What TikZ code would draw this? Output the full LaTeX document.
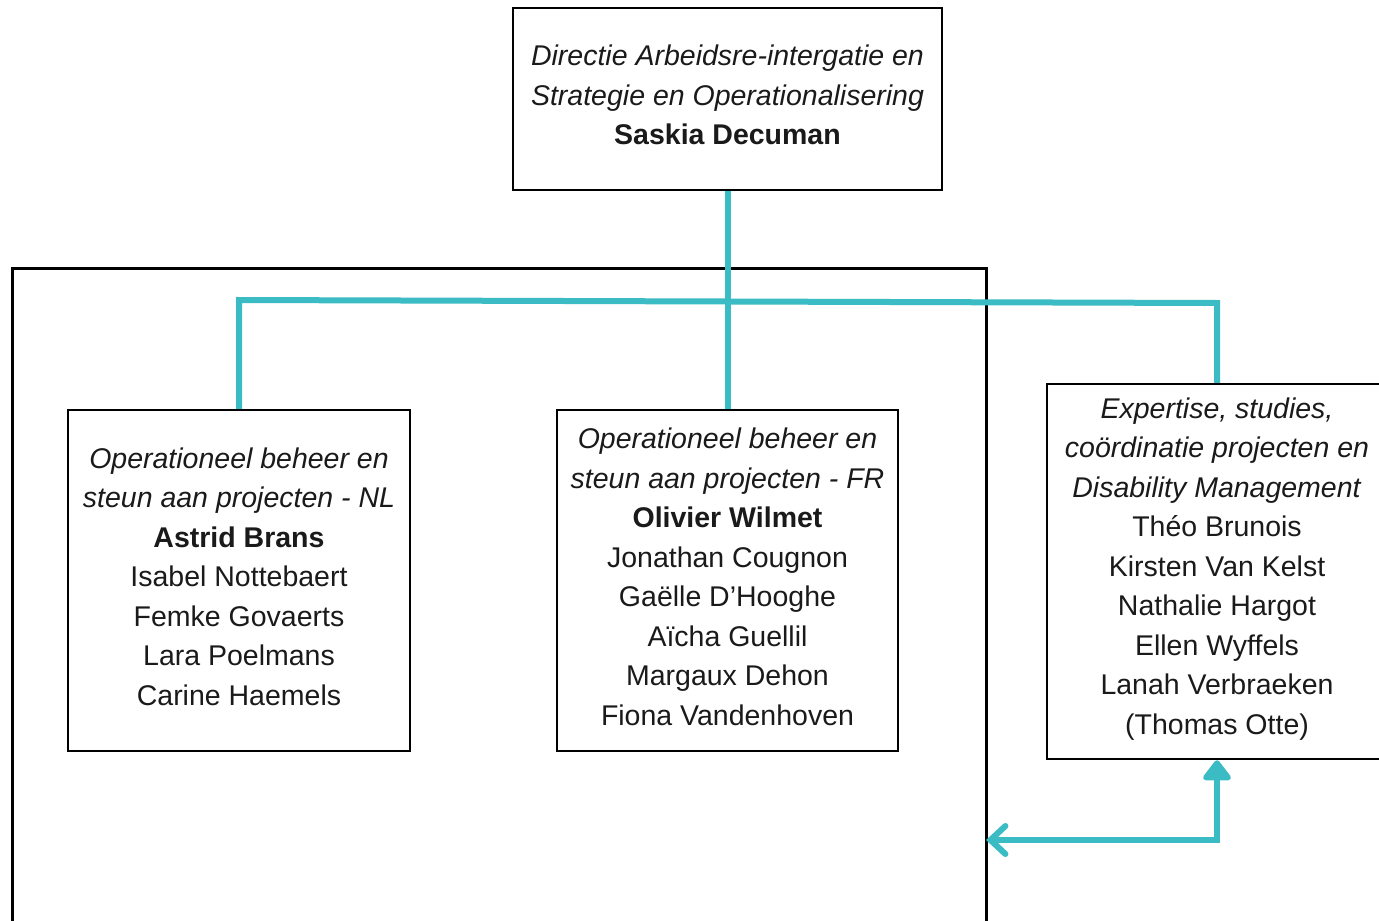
\documentclass[tikz,border=0pt]{standalone}
\usepackage{fontspec}
\setmainfont{Liberation Sans}
\usetikzlibrary{arrows.meta}
\definecolor{tealline}{HTML}{3BBCC4}
\definecolor{txt}{HTML}{1A1A1A}
\begin{document}
\begin{tikzpicture}[x=1pt,y=-1pt,
  box/.style={draw=black, line width=2.5pt, inner sep=0pt, align=center,
    font=\fontsize{28.5}{39.5}\selectfont, text=txt, fill=white, text depth=8pt},
  frame/.style={draw=black, line width=2.5pt, inner sep=0pt},
  link/.style={draw=tealline, line width=6pt}]
\path[use as bounding box] (0,0) rectangle (1379,921);
\clip (0,0) rectangle (1379,921);
\fill[white] (0,0) rectangle (1379,921);
\node[frame, minimum width=974pt, minimum height=800pt, anchor=north west] (outer) at (11,267) {};
\node[box, minimum width=429pt, minimum height=182pt] (top) at (727.5,99)
  {\textit{Directie Arbeidsre-intergatie en}\\\textit{Strategie en Operationalisering}\\\textbf{Saskia Decuman}};
\node[box, minimum width=342pt, minimum height=341pt] (box1) at (239,580.5)
  {\textit{Operationeel beheer en}\\\textit{steun aan projecten - NL}\\\textbf{Astrid Brans}\\Isabel Nottebaert\\Femke Govaerts\\Lara Poelmans\\Carine Haemels};
\node[box, minimum width=341pt, minimum height=341pt] (box2) at (727.5,580.5)
  {\textit{Operationeel beheer en}\\\textit{steun aan projecten - FR}\\\textbf{Olivier Wilmet}\\Jonathan Cougnon\\Gaëlle D’Hooghe\\Aïcha Guellil\\Margaux Dehon\\Fiona Vandenhoven};
\node[box, minimum width=340pt, minimum height=375pt, text depth=11pt] (box3) at (1217,571.5)
  {\textit{Expertise, studies,}\\\textit{coördinatie projecten en}\\\textit{Disability Management}\\Théo Brunois\\Kirsten Van Kelst\\Nathalie Hargot\\Ellen Wyffels\\Lanah Verbraeken\\(Thomas Otte)};
\coordinate (hL) at (239,300);
\coordinate (hR) at (1217,303);
\coordinate (aL) at (986,840);
\draw[link] (top.south) -- (box2.north);
\draw[link] (box1.north) -- (hL) -- (hR) -- (box3.north);
\draw[link, {Straight Barb[length=15pt,width=28pt,line cap=round]}-{Triangle[length=22pt,width=32pt,round]}] (aL) -| (box3.south);
\end{tikzpicture}
\end{document}
